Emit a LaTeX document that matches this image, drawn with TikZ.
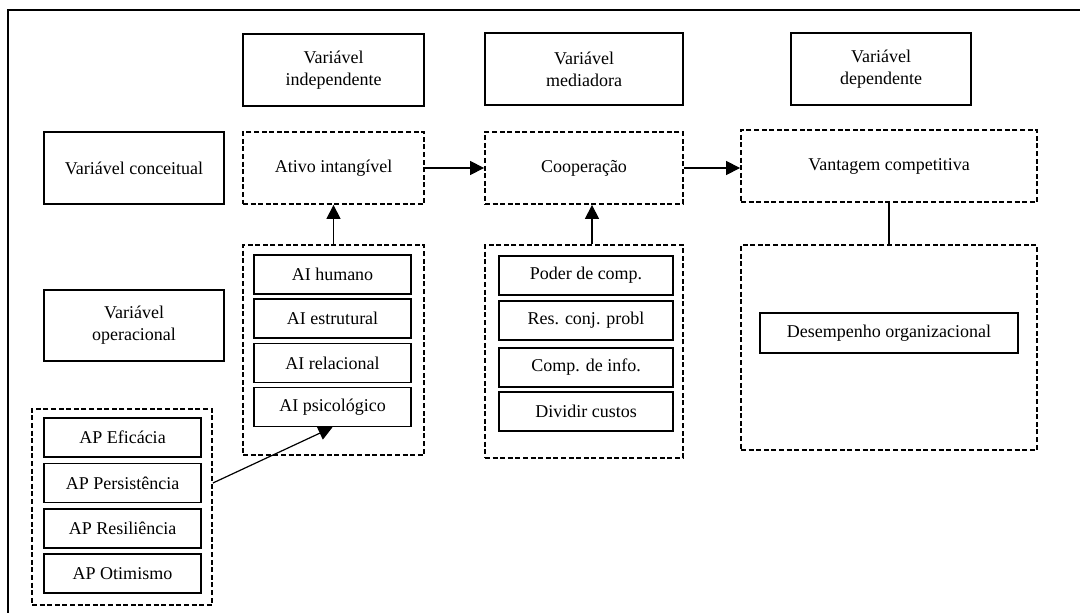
\documentclass[tikz,border=0pt]{standalone}
\usepackage{fontspec}
\setmainfont{Liberation Serif}
\usetikzlibrary{arrows.meta,calc}
\begin{document}
\begin{tikzpicture}[x=1pt,y=-1pt,
  font=\fontsize{18}{22}\selectfont,
  solidbox/.style={draw, line width=1.5pt, align=center, inner sep=0pt},
  dashbox/.style={draw, line width=1.8pt, dash pattern=on 5pt off 2.6pt, align=center, inner sep=0pt},
  big/.style={minimum width=#1, minimum height=72pt},
  item/.style={solidbox, minimum width=157pt, minimum height=39pt},
  arr/.style={line width=1.2pt, -{Triangle[length=14pt,width=14pt]}},
  conn/.style={line width=1.2pt}]
\useasboundingbox (0,0) rectangle (1080,613);
% outer frame (cropped on right and bottom)
\draw[line width=2pt] (7.5,613) -- (7.5,9.5) -- (1080,9.5);
% headers
\node[solidbox, big=181pt] (indep) at (333.5,70) {Variável\\independente};
\node[solidbox, big=198pt] (med) at (584,69) {Variável\\mediadora};
\node[solidbox, big=180pt] (dep) at (881,69) {Variável\\dependente};
\node[solidbox, big=180pt] (conc) at (134,168) {Variável conceitual};
\node[solidbox, minimum width=180pt, minimum height=71pt] (oper) at (134,325.5) {Variável\\operacional};
% conceptual row
\node[dashbox, big=181pt] (ativo) at (333.5,168) {Ativo intangível};
\node[dashbox, big=198pt] (coop) at (584,168) {Cooperação};
\node[dashbox, big=296pt] (vant) at (889,166) {Vantagem competitiva};
% groups
\node[dashbox, minimum width=181pt, minimum height=210pt] (aig) at (333.5,350) {};
\node[item] (aihum) at (332.5,274.5) {AI humano};
\node[item] (aiest) at (332.5,318.5) {AI estrutural};
\node[item] (airel) at (332.5,363) {AI relacional};
\node[item] (aips) at (332.5,407) {AI psicológico};
\node[dashbox, minimum width=198pt, minimum height=213pt] (cg) at (584,351.5) {};
\node[item, minimum width=174pt] (poder) at (586,275.5) {Poder de comp.};
\node[item, minimum width=174pt] (res) at (586,320.5) {Res. conj. probl};
\node[item, minimum width=174pt] (cinfo) at (586,367.5) {Comp. de info.};
\node[item, minimum width=174pt] (div) at (586,411.5) {Dividir custos};
\node[dashbox, minimum width=296pt, minimum height=205pt] (dg) at (889,347.5) {};
\node[solidbox, minimum width=258pt, minimum height=40pt] (des) at (889,333) {Desempenho organizacional};
\node[dashbox, minimum width=180pt, minimum height=196pt] (apg) at (122,507) {};
\node[item] (ape) at (122.5,437.5) {AP Eficácia};
\node[item] (app) at (122.5,483) {AP Persistência};
\node[item] (apr) at (122.5,528.5) {AP Resiliência};
\node[item] (apo) at (122.5,573.5) {AP Otimismo};
% connectors
\draw[arr] (ativo.east) -- (ativo.east -| coop.west);
\draw[arr] (coop.east) -- (coop.east -| vant.west);
\draw[arr] (aig.north) -- (ativo.south);
\draw[arr] ([xshift=8pt]cg.north) -- ([xshift=8pt]coop.south);
\draw[conn] (dg.north) -- (dg.north |- vant.south);
\draw[arr] (apg.east |- app.east) -- (aips.south);
\end{tikzpicture}
\end{document}
